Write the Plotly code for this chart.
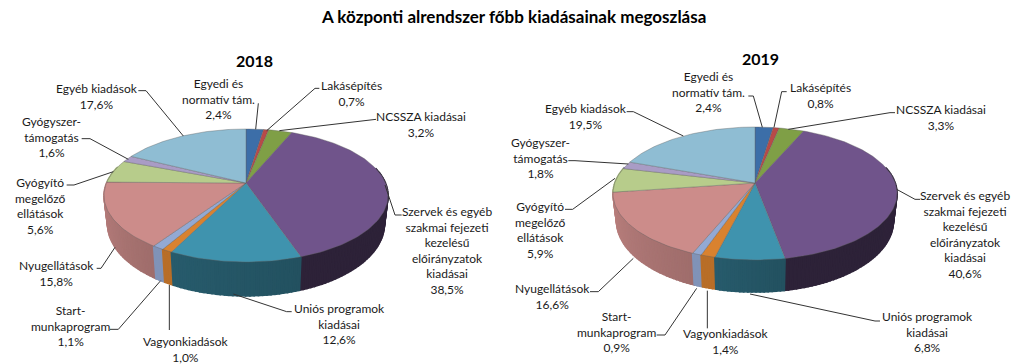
import math
import plotly.graph_objects as go

categories = ["Egyedi és<br>normatív tám.", "Lakásépítés", "NCSSZA kiadásai",
              "Szervek és egyéb<br>szakmai fejezeti<br>kezelésű<br>előirányzatok<br>kiadásai",
              "Uniós programok<br>kiadásai", "Vagyonkiadások", "Start-<br>munkaprogram",
              "Nyugellátások", "Gyógyító<br>megelőző<br>ellátások", "Gyógyszer-<br>támogatás",
              "Egyéb kiadások"]
values_2018 = [2.4, 0.7, 3.2, 38.5, 12.6, 1.0, 1.1, 15.8, 5.6, 1.6, 17.6]
values_2019 = [2.4, 0.8, 3.3, 40.6, 6.8, 1.4, 0.9, 16.6, 5.9, 1.8, 19.5]
value_text_2018 = ["2,4%", "0,7%", "3,2%", "38,5%", "12,6%", "1,0%", "1,1%", "15,8%", "5,6%", "1,6%", "17,6%"]
value_text_2019 = ["2,4%", "0,8%", "3,3%", "40,6%", "6,8%", "1,4%", "0,9%", "16,6%", "5,9%", "1,8%", "19,5%"]

top_colors = [(60, 110, 168), (184, 74, 72), (127, 159, 70), (112, 84, 139), (63, 147, 174),
              (217, 130, 47), (147, 169, 211), (204, 140, 138), (183, 204, 139), (169, 156, 197), (143, 189, 211)]
side_shade = [(.6, .6), (.6, .6), (.6, .6), (.42, .40), (.62, .55), (.85, .85), (.87, .87),
              (.92, .78), (.85, .85), (.85, .85), (.85, .85)]

TITLE = "A központi alrendszer főbb kiadásainak megoszlása"
FONT = "Lato"
SIZE = 12

geom_2018 = dict(cx=246, apex=183, top=129, bottom=262, rx=142, depth=27.5)
geom_2019 = dict(cx=755, apex=183, top=127, bottom=260, rx=142, depth=27)

label_pos_2018 = [(218, 99), (351.7, 93.3), (421, 124), (446.7, 250), (339, 323.7), (185.7, 349),
                  (70.7, 325.7), (56.7, 273), (40.7, 205.7), (51.7, 136.7), (97.3, 96)]
label_pos_2019 = [(708.7, 92.3), (820, 95), (940.7, 117), (965, 234), (927.7, 332.3), (726, 341),
                  (616.7, 331.5), (552, 296), (540, 229.8), (540, 158), (586.3, 116)]

leaders_2018 = [[(775, 190), (767, 268)], [(958, 145), (945, 145), (800, 272)],
                [(1128, 238), (838, 272)], [(1205, 525), (1185, 525), (1155, 435)],
                [(875, 815), (860, 815), (700, 762)], [(508, 870), (508, 735)],
                [(330, 868), (355, 868), (482, 722)], [(290, 685), (303, 685), (345, 622)],
                [(200, 435), (222, 435), (340, 395)], [(245, 296), (270, 296), (385, 358)],
                [(415, 152), (438, 152), (550, 288)]]
leaders_2019 = [[(745, 168), (760, 168), (787, 262)], [(860, 155), (845, 155), (822, 262)],
                [(1185, 218), (1170, 218), (865, 268)], [(1260, 478), (1245, 478), (1190, 448)],
                [(1140, 843), (1125, 843), (750, 762)], [(622, 865), (622, 752)],
                [(470, 885), (495, 885), (590, 745)], [(270, 755), (295, 755), (400, 655)],
                [(195, 508), (218, 508), (345, 415)], [(205, 362), (225, 362), (385, 372)],
                [(380, 215), (400, 215), (550, 288)]]

fig = go.Figure()


def shade(c, f):
    return "rgb(%d,%d,%d)" % tuple(round(v * f) for v in c)


def make_pie(values, g):
    t, b, a0 = g["top"], g["bottom"], g["apex"]
    k = (t + b - 2 * a0) / (b - t)
    a = t * (1 + k) - a0
    A = g["rx"] * math.sqrt(1 - k * k)

    def project(th):
        u, v = math.sin(th), math.cos(th)
        w = 1 + k * v
        return g["cx"] + A * u / w, (a0 + a * v) / w, w

    total = sum(values)
    cum = 0
    slices = []
    for val in values:
        s = cum / total * 2 * math.pi
        cum += val
        e = cum / total * 2 * math.pi
        n = max(2, int((e - s) / math.radians(1.5)) + 1)
        slices.append([s + (e - s) * i / n for i in range(n + 1)])

    sx = 0.975
    quads = []
    for idx, ths in enumerate(slices):
        f0, f1 = side_shade[idx]
        for i in range(len(ths) - 1):
            t0, t1 = ths[i], ths[i + 1]
            if math.cos((t0 + t1) / 2) > 0.25:
                continue
            x0, y0, w0 = project(t0)
            x1, y1, w1 = project(t1)
            d0, d1 = g["depth"] / w0, g["depth"] / w1
            bx0 = g["cx"] + (x0 - g["cx"]) * sx
            bx1 = g["cx"] + (x1 - g["cx"]) * sx
            frac = (i + .5) / (len(ths) - 1)
            left_to_right = frac if math.sin((ths[0] + ths[-1]) / 2) > 0 else 1 - frac
            fac = f0 + (f1 - f0) * left_to_right
            col = shade(top_colors[idx], fac)
            quads.append(((y0 + y1) / 2, [x0, x1, bx1, bx0, x0], [y0, y1, y1 + d1, y0 + d0, y0], col))
    quads.sort(key=lambda q: q[0])
    for _, xs, ys, col in quads:
        fig.add_trace(go.Scatter(x=xs, y=ys, mode="lines", fill="toself", fillcolor=col,
                                 line=dict(color=col, width=1.6), hoverinfo="skip", showlegend=False))
    for idx, ths in enumerate(slices):
        pts = [project(th) for th in ths]
        xs = [g["cx"]] + [p[0] for p in pts] + [g["cx"]]
        ys = [a0] + [p[1] for p in pts] + [a0]
        fig.add_trace(go.Scatter(x=xs, y=ys, mode="lines", fill="toself",
                                 fillcolor=shade(top_colors[idx], 1),
                                 line=dict(color="rgba(95,95,95,0.55)", width=0.7),
                                 hoverinfo="skip", showlegend=False))


def add_labels(values_text, pos, leaders, xoff):
    for cat, txt, (x, y) in zip(categories, values_text, pos):
        fig.add_annotation(x=x, y=y, text=f"{cat}<br>{txt}", showarrow=False, xanchor="center",
                           yanchor="middle", align="center",
                           font=dict(family=FONT, size=SIZE, color="#1a1a1a"))
    for pts in leaders:
        fig.add_trace(go.Scatter(x=[px / 3 + xoff for px, _ in pts], y=[py / 3 + 40 for _, py in pts],
                                 mode="lines", line=dict(color="#333333", width=1),
                                 hoverinfo="skip", showlegend=False))


make_pie(values_2018, geom_2018)
make_pie(values_2019, geom_2019)
add_labels(value_text_2018, label_pos_2018, leaders_2018, 0)
add_labels(value_text_2019, label_pos_2019, leaders_2019, 500)

fig.add_annotation(x=513, y=16, text=f"<b>{TITLE}</b>", showarrow=False, xanchor="center", yanchor="middle",
                   font=dict(family=FONT, size=17, color="black"))
fig.add_annotation(x=254.7, y=60, text="<b>2018</b>", showarrow=False, font=dict(family=FONT, size=16, color="black"))
fig.add_annotation(x=760, y=58, text="<b>2019</b>", showarrow=False, font=dict(family=FONT, size=16, color="black"))

fig.update_layout(width=1024, height=364, margin=dict(l=0, r=0, t=0, b=0), autosize=False,
                  plot_bgcolor="white", paper_bgcolor="white", showlegend=False,
                  xaxis=dict(range=[0, 1024], visible=False, fixedrange=True),
                  yaxis=dict(range=[364, 0], visible=False, fixedrange=True))
fig.write_html("out.html", config={"displayModeBar": False},
               post_script="document.body.style.margin='0';document.documentElement.style.overflow='hidden';")
